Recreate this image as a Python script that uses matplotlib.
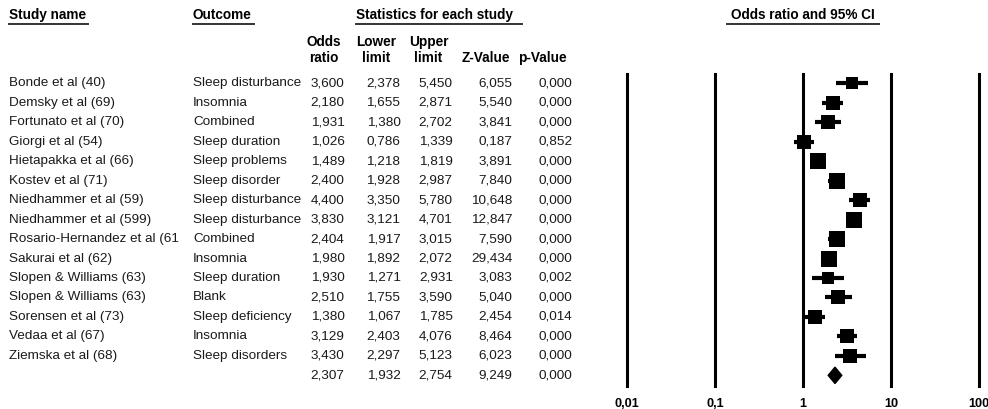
import numpy as np
import matplotlib
matplotlib.use("Agg")
import matplotlib.pyplot as plt
from matplotlib.transforms import blended_transform_factory
from matplotlib.lines import Line2D

plt.rcParams['font.family'] = ['Liberation Sans', 'DejaVu Sans']

# ---------------- data ----------------
studies = ["Bonde et al (40)", "Demsky et al (69)", "Fortunato et al (70)",
           "Giorgi et al (54)", "Hietapakka et al (66)", "Kostev et al (71)",
           "Niedhammer et al (59)", "Niedhammer et al (599)",
           "Rosario-Hernandez et al (61", "Sakurai et al (62)",
           "Slopen & Williams (63)", "Slopen & Williams (63)",
           "Sorensen et al (73)", "Vedaa et al (67)", "Ziemska et al (68)"]
outcomes = ["Sleep disturbance", "Insomnia", "Combined", "Sleep duration",
            "Sleep problems", "Sleep disorder", "Sleep disturbance",
            "Sleep disturbance", "Combined", "Insomnia", "Sleep duration",
            "Blank", "Sleep deficiency", "Insomnia", "Sleep disorders"]
odds_ratio = [3.600, 2.180, 1.931, 1.026, 1.489, 2.400, 4.400, 3.830,
              2.404, 1.980, 1.930, 2.510, 1.380, 3.129, 3.430]
lower_limit = [2.378, 1.655, 1.380, 0.786, 1.218, 1.928, 3.350, 3.121,
               1.917, 1.892, 1.271, 1.755, 1.067, 2.403, 2.297]
upper_limit = [5.450, 2.871, 2.702, 1.339, 1.819, 2.987, 5.780, 4.701,
               3.015, 2.072, 2.931, 3.590, 1.785, 4.076, 5.123]
z_values = [6.055, 5.540, 3.841, 0.187, 3.891, 7.840, 10.648, 12.847,
            7.590, 29.434, 3.083, 5.040, 2.454, 8.464, 6.023]
p_values = [0.000, 0.000, 0.000, 0.852, 0.000, 0.000, 0.000, 0.000,
            0.000, 0.000, 0.002, 0.000, 0.014, 0.000, 0.000]
summary_or = 2.307
summary_lower = 1.932
summary_upper = 2.754
summary_z = 9.249
summary_p = 0.000
tick_values = [0.01, 0.1, 1, 10, 100]
tick_labels = ["0,01", "0,1", "1", "10", "100"]


def fmt(v):
    return f"{v:.3f}".replace(".", ",")


# ---------------- figure ----------------
W, H = 988, 409
fig = plt.figure(figsize=(W / 100, H / 100), dpi=100)


def fx(px):
    return px / W


def fy(py):
    return 1 - py / H


ROW0, ROWSTEP = 83.3, 19.47
AX_TOP, AX_BOT = 74.0, 385.7
ax = fig.add_axes([fx(626.7), fy(AX_BOT), fx(979.3) - fx(626.7), (AX_BOT - AX_TOP) / H])
ax.set_xscale('log')
ax.set_xlim(tick_values[0], tick_values[-1])
n = len(studies)
ax.set_ylim((AX_BOT - ROW0) / ROWSTEP, -(ROW0 - AX_TOP) / ROWSTEP)
for s in ax.spines.values():
    s.set_visible(False)
ax.set_yticks([])
ax.set_xticks(tick_values, tick_labels)
ax.minorticks_off()
ax.tick_params(axis='x', length=0, pad=8.5, labelsize=9.2)
for lab in ax.get_xticklabels():
    lab.set_fontweight('bold')

for v in tick_values:
    ax.axvline(v, color='black', lw=2.2, clip_on=False, zorder=1)

# random-effects weights (DerSimonian-Laird) for square sizes
y = np.log(odds_ratio)
se = (np.log(upper_limit) - np.log(lower_limit)) / (2 * 1.96)
v = se ** 2
w = 1 / v
ybar = np.sum(w * y) / np.sum(w)
Q = np.sum(w * (y - ybar) ** 2)
C = np.sum(w) - np.sum(w ** 2) / np.sum(w)
tau2 = max(0.0, (Q - (n - 1)) / C)
wr = 1 / (v + tau2)
smin, smax = 12.8, 16.5  # px
side_px = smin + (smax - smin) * (wr - wr.min()) / (wr.max() - wr.min())
side_pt = side_px * 72 / 100

for i in range(n):
    ax.plot([lower_limit[i], upper_limit[i]], [i, i], color='black', lw=3.0,
            solid_capstyle='butt', zorder=3, clip_on=False)
    ax.plot([odds_ratio[i]], [i], marker='s', ms=side_pt[i], color='black',
            mew=0, zorder=4, clip_on=False)

ys = n
dh = 0.42
ax.fill([summary_lower, summary_or, summary_upper, summary_or],
        [ys, ys - dh, ys, ys + dh], color='black', zorder=4, clip_on=False)

# ---------------- table ----------------
tr = blended_transform_factory(fig.transFigure, ax.transData)
FS = 9.7
TC = '#1a1a1a'
cols_right = [344.5, 400.5, 452.7, 512.7, 572.3]
for i in range(n):
    fig.text(fx(9), i, studies[i], transform=tr, ha='left', va='center', fontsize=FS, color=TC)
    fig.text(fx(193), i, outcomes[i], transform=tr, ha='left', va='center', fontsize=FS, color=TC)
    vals = [odds_ratio[i], lower_limit[i], upper_limit[i], z_values[i], p_values[i]]
    for xr, val in zip(cols_right, vals):
        fig.text(fx(xr), i, fmt(val), transform=tr, ha='right', va='center', fontsize=FS, color=TC)
for xr, val in zip(cols_right, [summary_or, summary_lower, summary_upper, summary_z, summary_p]):
    fig.text(fx(xr), n, fmt(val), transform=tr, ha='right', va='center', fontsize=FS, color=TC)

# ---------------- headers ----------------
HFS = 9.8
fig.text(fx(9), fy(15), "Study name", ha='left', va='center', fontsize=HFS, fontweight='bold')
fig.text(fx(192.7), fy(15), "Outcome", ha='left', va='center', fontsize=HFS, fontweight='bold')
fig.text(fx(356), fy(15), "Statistics for each study", ha='left', va='center', fontsize=HFS, fontweight='bold')
fig.text(fx(802.8), fy(15), "Odds ratio and 95% CI", ha='center', va='center', fontsize=HFS, fontweight='bold')
for x0, x1 in [(9, 88), (193, 254), (356, 521.7), (726.7, 879)]:
    fig.add_artist(Line2D([fx(x0), fx(x1)], [fy(23.7), fy(23.7)], transform=fig.transFigure,
                          color='#333333', lw=1.4))

sub_heads = [(324, "Odds", "ratio"), (376, "Lower", "limit"), (428.5, "Upper", "limit"),
             (486, "", "Z-Value"), (542.5, "", "p-Value")]
for xc, t1, t2 in sub_heads:
    if t1:
        fig.text(fx(xc), fy(41.7), t1, ha='center', va='center', fontsize=HFS, fontweight='bold')
    fig.text(fx(xc), fy(58.3), t2, ha='center', va='center', fontsize=HFS, fontweight='bold')

fig.savefig("out.png", dpi=100)
